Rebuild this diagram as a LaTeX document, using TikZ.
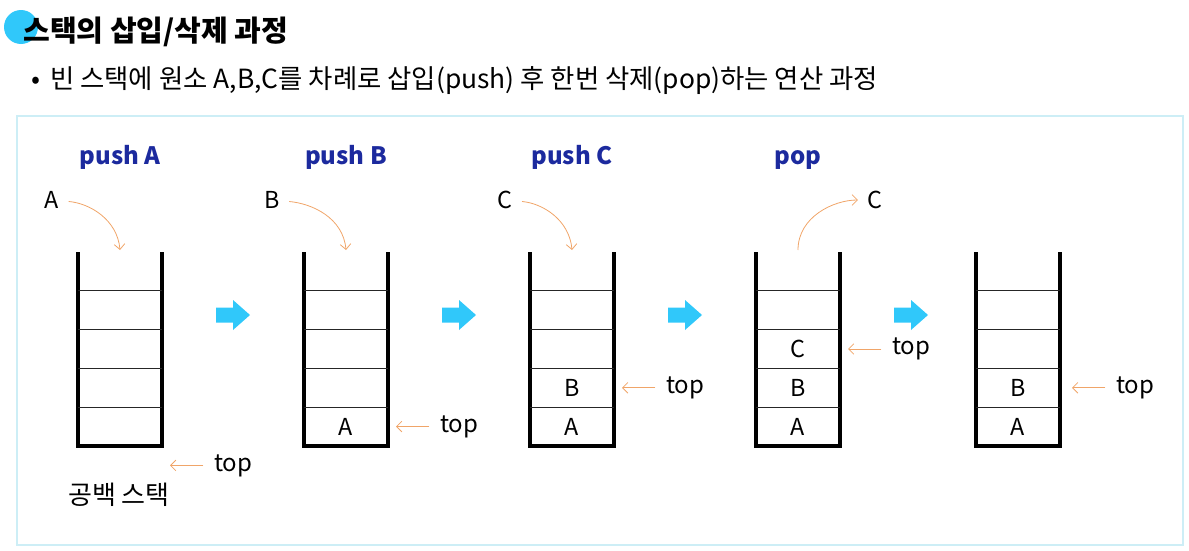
\documentclass[tikz,border=0pt]{standalone}
\usepackage{fontspec}
\setmainfont{Noto Sans CJK KR}
\usetikzlibrary{arrows.meta,positioning}
\definecolor{pushblue}{RGB}{28,42,158}
\definecolor{skyblue}{RGB}{48,200,250}
\definecolor{ptrorange}{RGB}{240,165,105}
\definecolor{framecyan}{RGB}{205,238,246}
\tikzset{
  wall/.style={line width=2.4pt},
  divider/.style={line width=0.9pt, black!85},
  item/.style={inner sep=0pt, font=\fontsize{17.5}{20}\selectfont},
  oplabel/.style={inner sep=0pt, anchor=base, font=\bfseries\fontsize{18}{20}\selectfont, text=pushblue},
  toplbl/.style={inner sep=0pt, font=\fontsize{18}{20}\selectfont},
  ptr/.style={-{Straight Barb[length=4pt,width=8pt]}, ptrorange, line width=0.6pt},
}
\begin{document}
\begin{tikzpicture}[x=0.75pt,y=0.75pt]
  \useasboundingbox (0,0) rectangle (1189,-550);
  % heading
  \fill[skyblue] (21,-27) circle (17);
  \node[anchor=west, inner sep=0pt, font=\bfseries\fontsize{21.8}{24}\selectfont] (title) at (23,-32) {스택의 삽입/삭제 과정};
  \node[anchor=west, inner sep=0pt, font=\fontsize{19.8}{22}\selectfont] (intro) at (31,-81) {•\hspace{3pt} 빈 스택에 원소 A,B,C를 차례로 삽입(push) 후 한번 삭제(pop)하는 연산 과정};
  \draw[framecyan, line width=1.2pt] (17,-116) rectangle (1183,-545);

  % stacks
  \foreach \s/\L in {1/78,2/304,3/530,4/756,5/976} {
    \draw[wall] (\L,-252) -- (\L,-446) -- (\L+84,-446) -- (\L+84,-252);
    \foreach \k in {1,...,4}
      \draw[divider] (\L,-446+38.8*\k) -- (\L+84,-446+38.8*\k);
    \foreach \k in {0,...,5} {
      \coordinate (s\s c\k) at (\L+42,-465.4+38.8*\k);
      \coordinate (s\s r\k) at (\L+92,-465.4+38.8*\k);
    }
    \coordinate (s\s in) at (\L+42,-250);
  }

  % block arrows
  \foreach \x in {216,442,668,894}
    \fill[skyblue] (\x,-307.5) -- (\x+17,-307.5) -- (\x+17,-300) -- (\x+34,-315)
      -- (\x+17,-330) -- (\x+17,-322.5) -- (\x,-322.5) -- cycle;

  % operations
  \node[oplabel] (pushA) at (120,-164) {push A};
  \node[oplabel] (pushB) at (346,-164) {push B};
  \node[oplabel] (pushC) at (572,-164) {push C};
  \node[oplabel] (pop) at (798,-164) {pop};

  \node[item] (inA) at (52,-200) {A};
  \node[item] (inB) at (272,-200) {B};
  \node[item] (inC) at (505,-200) {C};
  \node[item] (outC) at (875,-200) {C};
  \draw[ptr, shorten <=7pt] (inA) to[out=-5,in=95] (s1in);
  \draw[ptr, shorten <=7pt] (inB) to[out=-5,in=95] (s2in);
  \draw[ptr, shorten <=7pt] (inC) to[out=-5,in=95] (s3in);
  \draw[ptr, shorten >=7pt] (s4in) to[out=90,in=180] (outC);

  % stack contents
  \node[item] (a2) at (s2c1) {A};
  \node[item] (a3) at (s3c1) {A};
  \node[item] (b3) at (s3c2) {B};
  \node[item] (a4) at (s4c1) {A};
  \node[item] (b4) at (s4c2) {B};
  \node[item] (c4) at (s4c3) {C};
  \node[item] (a5) at (s5c1) {A};
  \node[item] (b5) at (s5c2) {B};

  % top pointers
  \node[toplbl, right=33pt of s1r0] (top1) {top};
  \node[toplbl, right=33pt of s2r1] (top2) {top};
  \node[toplbl, right=33pt of s3r2] (top3) {top};
  \node[toplbl, right=33pt of s4r3] (top4) {top};
  \node[toplbl, right=36pt of s5r2] (top5) {top};
  \draw[ptr, shorten <=8pt] (top1) -- (s1r0);
  \draw[ptr, shorten <=8pt] (top2) -- (s2r1);
  \draw[ptr, shorten <=8pt] (top3) -- (s3r2);
  \draw[ptr, shorten <=8pt] (top4) -- (s4r3);
  \draw[ptr, shorten <=8pt] (top5) -- ([xshift=3pt]s5r2);

  \node[font=\fontsize{19.5}{22}\selectfont, inner sep=0pt] (empty) at (119,-495) {공백 스택};
\end{tikzpicture}
\end{document}
